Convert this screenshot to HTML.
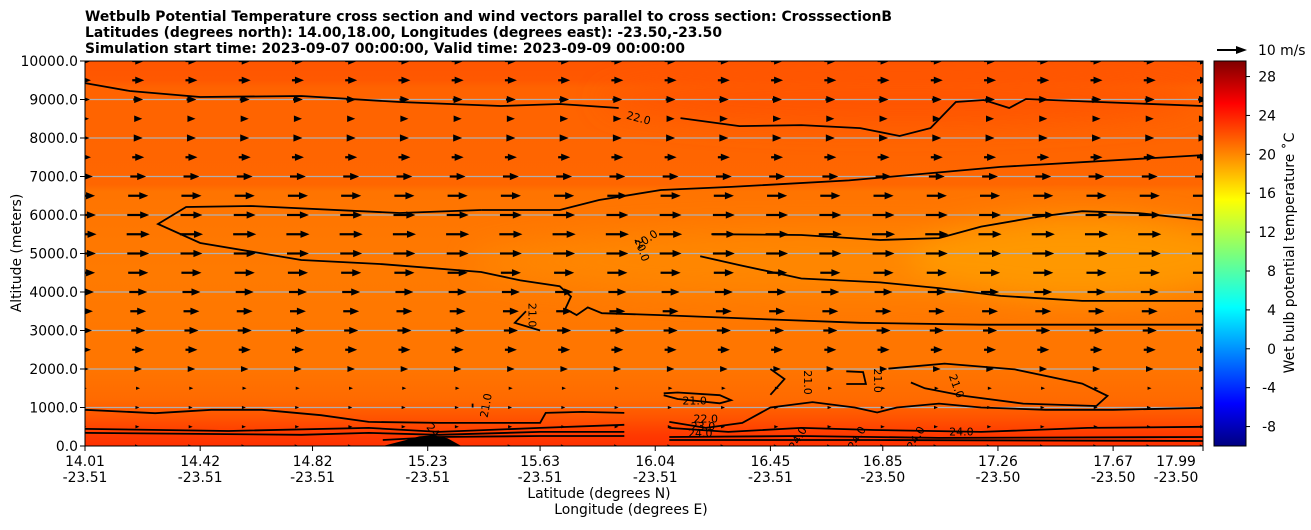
<!DOCTYPE html>
<html><head><meta charset="utf-8">
<style>
body{margin:0;background:#fff;width:1311px;height:526px;overflow:hidden;font-family:"DejaVu Sans",sans-serif;}
svg text{font-family:"DejaVu Sans","Liberation Sans",sans-serif;}
</style></head>
<body>
<svg id="chart" width="1311" height="526" viewBox="0 0 1311 526" xmlns="http://www.w3.org/2000/svg">
<defs>
<linearGradient id="bg" x1="0" y1="0" x2="0" y2="1">
<stop offset="0" stop-color="#ff5500"/><stop offset="0.05" stop-color="#ff5800"/>
<stop offset="0.07" stop-color="#ff6300"/><stop offset="0.32" stop-color="#ff6600"/>
<stop offset="0.34" stop-color="#ff7400"/><stop offset="0.55" stop-color="#ff7a00"/>
<stop offset="0.8" stop-color="#ff7500"/><stop offset="0.88" stop-color="#ff6a00"/>
<stop offset="0.93" stop-color="#ff5200"/><stop offset="0.97" stop-color="#ff3a00"/>
<stop offset="1" stop-color="#ff3000"/></linearGradient>
<linearGradient id="jet" x1="0" y1="1" x2="0" y2="0">
<stop offset="0" stop-color="#00007f"/><stop offset="0.11" stop-color="#0000ff"/>
<stop offset="0.36" stop-color="#00ffff"/><stop offset="0.5" stop-color="#7dff7a"/>
<stop offset="0.64" stop-color="#ffff00"/><stop offset="0.89" stop-color="#ff0000"/>
<stop offset="1" stop-color="#7f0000"/></linearGradient>
<filter id="blur"><feGaussianBlur stdDeviation="14"/></filter>
<clipPath id="plotclip"><rect x="85" y="61" width="1118" height="385"/></clipPath>
</defs>
<g id="titles" font-size="13.9" font-weight="bold">
<text x="85" y="21" textLength="807" lengthAdjust="spacingAndGlyphs">Wetbulb Potential Temperature cross section and wind vectors parallel to cross section: CrosssectionB</text>
<text x="85" y="37" textLength="637" lengthAdjust="spacingAndGlyphs">Latitudes (degrees north): 14.00,18.00, Longitudes (degrees east): -23.50,-23.50</text>
<text x="85" y="53" textLength="600" lengthAdjust="spacingAndGlyphs">Simulation start time: 2023-09-07 00:00:00, Valid time: 2023-09-09 00:00:00</text>
</g>
<g clip-path="url(#plotclip)">
<rect x="85" y="61" width="1118" height="385" fill="url(#bg)"/>
<g filter="url(#blur)">
<ellipse cx="850" cy="262" rx="380" ry="32" fill="#ff8600"/>
<ellipse cx="1080" cy="258" rx="170" ry="42" fill="#ff9800"/>
<ellipse cx="900" cy="100" rx="300" ry="25" fill="#ff5500"/>
</g>
<g id="grid"></g>
<g id="contours" fill="none" stroke="#000" stroke-width="1.8"></g>
<g id="terrain"></g>
<g id="arrows"></g>
<g id="clabels" font-size="11"></g>
</g>
<rect x="85" y="61" width="1118" height="385" fill="none" stroke="#000" stroke-width="1"/>
<g id="yaxis" font-size="13.9"></g>
<g id="xaxis" font-size="13.9"></g>
<text x="599" y="498" font-size="13.9" text-anchor="middle">Latitude (degrees N)</text>
<text x="631" y="514" font-size="13.9" text-anchor="middle">Longitude (degrees E)</text>
<text transform="translate(21,253) rotate(-90)" font-size="13.9" text-anchor="middle">Altitude (meters)</text>
<g>
<line x1="1217" y1="50" x2="1237" y2="50" stroke="#000" stroke-width="2"/>
<polygon points="1247,50 1236,46 1236,54" fill="#000"/>
<text x="1258" y="55" font-size="13.9">10 m/s</text>
</g>
<rect x="1214" y="61" width="32" height="385" fill="url(#jet)" stroke="#000" stroke-width="1"/>
<g id="cbar" font-size="13.9"></g>
<text transform="translate(1294,253) rotate(-90)" font-size="13.9" text-anchor="middle">Wet bulb potential temperature ˚C</text>
</svg>
<script>
const latMin = 14.01, latMax = 17.99, altMax = 10000;
const xTickLats = [14.01,14.42,14.82,15.23,15.63,16.04,16.45,16.85,17.26,17.67,17.99];
const xTickLons = ["-23.51","-23.51","-23.51","-23.51","-23.51","-23.51","-23.51","-23.50","-23.50","-23.50","-23.50"];
const yTicks = [0,1000,2000,3000,4000,5000,6000,7000,8000,9000,10000];
const cbarTicks = [-8,-4,0,4,8,12,16,20,24,28];
const cbarMin = -10, cbarMax = 29.6;
const windAlts = [0,500,1000,1500,2000,2500,3000,3500,4000,4500,5000,5500,6000,6500,7000,7500,8000,8500,9000,9500,10000];
const windSpeeds = [0.5,0.8,0.8,1.2,2.5,4,4.7,5.3,6,6.7,7.3,7.7,7.3,6.7,5.3,4,3,2.7,3.3,4,4];
const windCols = 22;
const contours = [
 [[14.01,9427],[14.17,9220],[14.42,9064],[14.78,9090],[15.13,8934],[15.49,8830],[15.70,8882],[15.91,8778]],
 [[16.13,8518],[16.34,8310],[16.56,8336],[16.77,8258],[16.91,8051],[17.02,8258],[17.11,8934],[17.21,8986],[17.30,8778],[17.36,9012],[17.62,8934],[17.99,8830]],
 [[15.42,6129],[15.70,6129],[15.84,6389],[16.06,6650],[16.31,6730],[16.73,6900],[17.27,7250],[17.99,7557]],
 [[15.42,6129],[15.13,6051],[14.60,6233],[14.37,6207],[14.27,5765],[14.42,5272],[14.78,4830],[15.06,4727],[15.42,4519],[15.56,4300],[15.70,4150],[15.74,3880],[15.72,3560],[15.76,3400],[15.80,3600],[15.85,3450],[16.06,3400],[16.40,3300],[16.77,3200],[17.20,3150],[17.60,3150],[17.99,3150]],
 [[16.24,5500],[16.56,5480],[16.84,5350],[17.05,5400],[17.20,5700],[17.40,5950],[17.56,6100],[17.76,6050],[17.99,5870]],
 [[16.20,4930],[16.34,4700],[16.56,4350],[16.84,4250],[17.05,4100],[17.27,3900],[17.56,3770],[17.99,3770]],
 [[14.01,939],[14.26,853],[14.46,939],[14.64,939],[14.85,800],[15.02,625],[15.27,600],[15.63,600],[15.65,860],[15.78,885],[15.93,860]],
 [[16.09,625],[16.22,470],[16.35,600],[16.45,1000],[16.60,1140],[16.75,1000],[16.83,870],[16.90,1000],[17.05,1100],[17.20,1000],[17.43,939],[17.67,939],[17.99,990]],
 [[14.01,445],[14.52,390],[15.02,470],[15.27,365],[15.63,470],[15.93,550]],
 [[16.09,470],[16.30,365],[16.56,470],[16.82,415],[17.20,365],[17.58,470],[17.99,500]],
 [[14.01,340],[14.78,290],[15.02,340],[15.27,290],[15.63,365],[15.93,365]],
 [[16.09,235],[16.56,260],[17.05,210],[17.99,235]],
 [[15.07,155],[15.27,235],[15.63,260],[15.93,260]],
 [[16.09,155],[16.82,155],[17.99,130]],
 [[16.87,2010],[17.07,2140],[17.32,1990],[17.56,1620],[17.65,1300],[17.61,1040],[17.35,1100],[17.14,1300],[17.00,1500],[16.95,1650]],
 [[16.07,1370],[16.12,1390],[16.27,1320],[16.31,1190],[16.27,1110],[16.12,1220],[16.07,1320]],
 [[16.45,2000],[16.50,1740],[16.45,1330]],
 [[16.72,1940],[16.78,1920],[16.79,1610],[16.72,1610]],
 [[15.39,1100],[15.39,1000]],
 [[15.58,3500],[15.54,3200],[15.63,3000]]
];
const terrainLats = [15.07,15.15,15.20,15.25,15.30,15.35];
const terrainAlts = [0,150,250,280,200,0];
const contourLabels = [
 ["22.0",15.98,8500,15],["20.0",16.01,5350,-35],["20.0",15.99,5100,70],["21.0",15.60,3400,90],
 ["21.0",15.44,1050,-80],["21.0",16.18,1150,0],["22.0",16.22,690,0],["23.0",16.21,500,0],["24.0",16.20,310,0],
 ["21.0",16.58,1650,90],["21.0",16.83,1700,90],["21.0",17.11,1550,70],["24.0",17.13,350,0],
 ["24.0",16.97,200,-60],["24.0",16.76,200,-60],["24.0",16.55,190,-60],["24.0",15.26,290,50]
];
const NS='http://www.w3.org/2000/svg';
const X = lat => 85 + (lat - latMin) / (latMax - latMin) * 1118;
const Y = alt => 446 - alt / altMax * 385;
const CY = v => 446 - (v - cbarMin) / (cbarMax - cbarMin) * 385;
function mk(tag, attrs, parent){const e=document.createElementNS(NS,tag);for(const k in attrs)e.setAttribute(k,attrs[k]);parent.appendChild(e);return e;}
const grid=document.getElementById('grid');
yTicks.forEach(v=>{if(v>0&&v<altMax){const l=mk('line',{x1:85,x2:1203,y1:Y(v),y2:Y(v),stroke:'#b0b0b0','stroke-width':1.2},grid);

}});
const cg=document.getElementById('contours');
contours.forEach(c=>{const p=mk('polyline',{points:c.map(q=>X(q[0]).toFixed(1)+','+Y(q[1]).toFixed(1)).join(' ')},cg);

});
const tg=document.getElementById('terrain');
const tp=mk('polygon',{points:terrainLats.map((l,i)=>X(l).toFixed(1)+','+Y(terrainAlts[i]).toFixed(1)).join(' '),fill:'#000'},tg);


const ag=document.getElementById('arrows');
windAlts.forEach((a,r)=>{const s=windSpeeds[r];const len=s*3;const y=Y(a);
 for(let c=0;c<windCols;c++){const x=X(latMin+(latMax-latMin)*c/(windCols-1));
  const hl=Math.min(9,Math.max(len,4)),hw=hl*0.8;const x0=x-len/2,x1=x+len/2;
  const g=mk('g',{},ag);
  
  
  if(len>hl)mk('line',{x1:x0,y1:y,x2:x1-hl+1,y2:y,stroke:'#000','stroke-width':2.2},g);
  mk('polygon',{points:`${x1},${y} ${x1-hl},${y-hw/2} ${x1-hl},${y+hw/2}`,fill:'#000'},g);}});
const lg=document.getElementById('clabels');
contourLabels.forEach(L=>{const t=mk('text',{x:0,y:0,transform:`translate(${X(L[1]).toFixed(1)},${Y(L[2]).toFixed(1)}) rotate(${L[3]})`,'text-anchor':'middle','dominant-baseline':'middle'},lg);t.textContent=L[0];

});
const yg=document.getElementById('yaxis');
yTicks.forEach(v=>{mk('line',{x1:80,x2:85,y1:Y(v),y2:Y(v),stroke:'#000'},yg);
 const t=mk('text',{x:78,y:Y(v)+5,'text-anchor':'end'},yg);t.textContent=v.toFixed(1);
 
 });
const xg=document.getElementById('xaxis');
xTickLats.forEach((v,i)=>{const x=X(v);mk('line',{x1:x,x2:x,y1:446,y2:451,stroke:'#000'},xg);
 const last=i===xTickLats.length-1;const tx=last?x-27:x;
 const t=mk('text',{x:tx,y:466,'text-anchor':'middle'},xg);t.textContent=v.toFixed(2);
 
 
 const t2=mk('text',{x:tx,y:482,'text-anchor':'middle'},xg);t2.textContent=xTickLons[i];
 
 });
const cb=document.getElementById('cbar');
cbarTicks.forEach(v=>{const y=CY(v);mk('line',{x1:1246,x2:1250,y1:y,y2:y,stroke:'#000'},cb);
 const t=mk('text',{x:1276,y:y+5,'text-anchor':'end'},cb);t.textContent=v;
 
 });
</script>
</body></html>
